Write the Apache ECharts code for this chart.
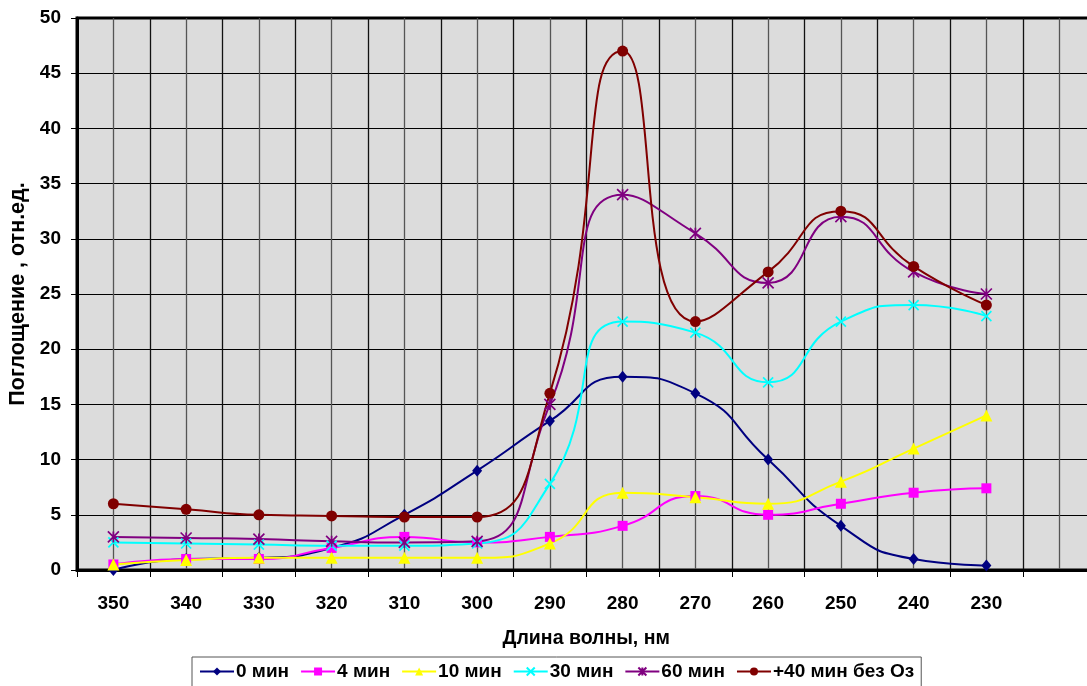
<!DOCTYPE html>
<html>
<head>
<meta charset="utf-8">
<script src="https://cdn.jsdelivr.net/npm/echarts@6/dist/echarts.min.js"></script>
<style>
  html, body { margin: 0; padding: 0; background: #ffffff; }
  #chart { width: 1087px; height: 686px; }
</style>
</head>
<body>
<div id="chart"></div>
<script>
// Wavelength categories (nm); the trailing empty slot keeps the spare column on the right
const wavelengths = ['350', '340', '330', '320', '310', '300', '290', '280', '270', '260', '250', '240', '230', ''];

// Absorbance, arbitrary units, one array per exposure time
const min0   = [0,   1.0, 1.1, 2.0, 5.0, 9.0, 13.5, 17.5, 16.0, 10.0, 4.0,  1.0,  0.4];
const min4   = [0.5, 1.0, 1.0, 2.0, 3.0, 2.5, 3.0,  4.0,  6.7,  5.0,  6.0,  7.0,  7.4];
const min10  = [0.5, 0.9, 1.1, 1.1, 1.1, 1.1, 2.4,  7.0,  6.6,  6.0,  8.0,  11.0, 14.0];
const min30  = [2.5, 2.4, 2.3, 2.2, 2.2, 2.4, 7.8,  22.5, 21.5, 17.0, 22.5, 24.0, 23.0];
const min60  = [3.0, 2.9, 2.8, 2.6, 2.5, 2.6, 15.0, 34.0, 30.5, 26.0, 32.0, 27.0, 25.0];
const min40b = [6.0, 5.5, 5.0, 4.9, 4.8, 4.8, 16.0, 47.0, 22.5, 27.0, 32.5, 27.5, 24.0];

const seriesNames = ['0 мин', '4 мин', '10 мин', '30 мин', '60 мин', '+40 мин без Оз'];
const yTicks = { min: 0, max: 50, step: 5 };

const FONT = 'Arial, "Liberation Sans", sans-serif';
const crossPath = 'path://M0,0L10,10M10,0L0,10';
const starPath = 'path://M0,0L10,10M10,0L0,10M5,0L5,10';

function lineSeries(name, data, color, symbol, size, stroked) {
  return {
    name: name,
    type: 'line',
    xAxisIndex: 0,
    yAxisIndex: 0,
    data: data,
    smooth: 0.55,
    symbol: symbol,
    symbolSize: size,
    showSymbol: true,
    lineStyle: { color: color, width: 2 },
    itemStyle: stroked
      ? { color: color, borderColor: color, borderWidth: 1.7 }
      : { color: color, borderWidth: 0 },
    emphasis: { disabled: true },
    animation: false
  };
}

const chart = echarts.init(document.getElementById('chart'), null, { renderer: 'canvas' });

chart.setOption({
  backgroundColor: '#ffffff',
  animation: false,
  textStyle: { fontFamily: FONT },
  grid: {
    left: 77,
    top: 18,
    right: -8.5,
    bottom: 116,
    show: true,
    backgroundColor: '#dcdcdc',
    borderColor: '#000000',
    borderWidth: 3,
    containLabel: false,
    outerBoundsMode: 'none'
  },
  legend: {
    left: 192,
    top: 657,
    padding: [5, 7, 8, 7],
    itemGap: 11,
    itemWidth: 34,
    itemHeight: 10,
    borderColor: '#555555',
    borderWidth: 1,
    backgroundColor: '#ffffff',
    textStyle: { fontFamily: FONT, fontWeight: 'bold', fontSize: 19, color: '#000000', padding: [0, 0, 0, -3] },
    data: seriesNames
  },
  xAxis: [
    {
      type: 'category',
      data: wavelengths,
      boundaryGap: true,
      position: 'bottom',
      name: 'Длина волны, нм',
      nameLocation: 'middle',
      nameGap: 59,
      nameTextStyle: { fontFamily: FONT, fontWeight: 'bold', fontSize: 19.5, color: '#000000' },
      axisLine: { show: true, onZero: false, lineStyle: { color: '#000000', width: 3 } },
      axisTick: { show: true, length: 7, alignWithLabel: false, lineStyle: { color: '#000000', width: 1 } },
      axisLabel: { fontFamily: FONT, fontWeight: 'bold', fontSize: 19, color: '#000000', margin: 24 },
      splitLine: { show: false }
    },
    {
      // half-step vertical grid lines across the plot
      type: 'value',
      min: 0,
      max: 14,
      interval: 0.5,
      position: 'top',
      axisLine: { show: false },
      axisTick: { show: false },
      axisLabel: { show: false },
      splitLine: { show: true, lineStyle: { color: ['#111111', '#555555'], width: 1.3 } }
    }
  ],
  yAxis: {
    type: 'value',
    min: yTicks.min,
    max: yTicks.max,
    interval: yTicks.step,
    name: 'Поглощение , отн.ед.',
    nameLocation: 'middle',
    nameGap: 47,
    nameRotate: 90,
    nameTextStyle: { fontFamily: FONT, fontWeight: 'bold', fontSize: 21.5, color: '#000000' },
    axisLine: { show: true, lineStyle: { color: '#000000', width: 3 } },
    axisTick: { show: true, length: 6, lineStyle: { color: '#000000', width: 1 } },
    axisLabel: { fontFamily: FONT, fontWeight: 'bold', fontSize: 19, color: '#000000', margin: 16 },
    splitLine: { show: true, lineStyle: { color: '#000000', width: 1 } }
  },
  series: [
    lineSeries(seriesNames[0], min0,   '#000080', 'diamond',  [10, 12], false),
    lineSeries(seriesNames[1], min4,   '#ff00ff', 'rect',     10, false),
    lineSeries(seriesNames[2], min10,  '#ffff00', 'triangle', 12, false),
    lineSeries(seriesNames[3], min30,  '#00ffff', crossPath,  10, true),
    lineSeries(seriesNames[4], min60,  '#800080', starPath,   11, true),
    lineSeries(seriesNames[5], min40b, '#800000', 'circle',   11, false)
  ]
});
</script>
</body>
</html>
